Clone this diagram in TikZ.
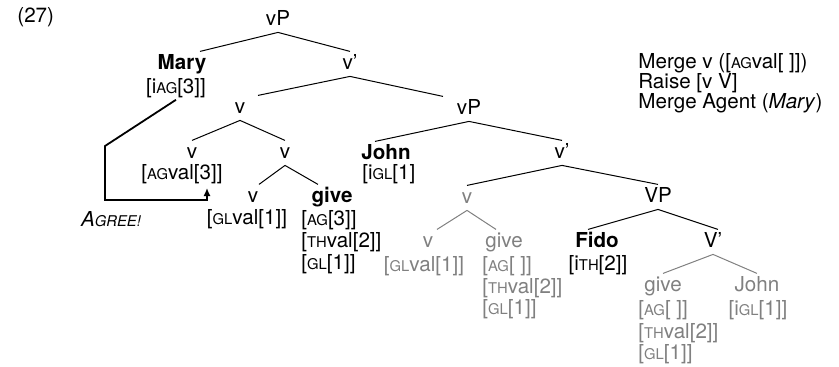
\documentclass[tikz,border=0pt]{standalone}
\usepackage{fontspec}
\setmainfont{TeX Gyre Heros}
\usetikzlibrary{arrows.meta}
\definecolor{trace}{gray}{0.5}
\newcommand{\fc}[1]{{\fontsize{7.4}{8}\selectfont #1}}

\begin{document}
\begin{tikzpicture}[x=0.5pt,y=-0.5pt,font=\fontsize{10.3}{12}\selectfont,
  cat/.style={anchor=base,text height=7.4pt,text depth=2.3pt,inner xsep=1pt,inner ysep=1.2pt},
  feat/.style={anchor=base,inner sep=1pt},
  lfeat/.style={anchor=base west,inner sep=0pt},
  gone/.style={text=trace},
  br/.style={line width=0.5pt},
  agree/.style={line width=0.9pt,-{Latex[length=4pt,width=3.6pt]}}]
\useasboundingbox (0,0) rectangle (839,366);
\node[lfeat] (ex) at (17,22) {(27)};
% upper vP
\node[cat] (root) at (278,25) {vP};
\node[cat] (Mary) at (182,69) {\bfseries Mary};
\node[feat] (iAG) at (176,93) {[i\fc{AG}[3]]};
\node[cat] (vbarA) at (350,69) {v'};
\node[cat] (vA) at (240,113) {v};
\node[cat] (vL) at (192,158) {v};
\node[feat] (AGval) at (182,179) {[\fc{AG}val[3]]};
\node[cat] (vR) at (285,158) {v};
\node[cat] (vLL) at (253,202) {v};
\node[feat] (GLval) at (247,224) {[\fc{GL}val[1]]};
\node[cat] (give) at (332,202) {\bfseries give};
\node[lfeat] (giveAG) at (301,225) {[\fc{AG}[3]]};
\node[lfeat] (giveTH) at (301,247) {[\fc{TH}val[2]]};
\node[lfeat] (giveGL) at (301,269) {[\fc{GL}[1]]};
% lower vP
\node[cat] (vPb) at (469,114) {vP};
\node[cat] (John) at (386,159) {\bfseries John};
\node[lfeat] (iGL) at (362,179) {[i\fc{GL}[1]};
\node[cat] (vbarB) at (562,158) {v'};
\node[cat,gone] (tv) at (467,203) {v};
\node[cat,gone] (tvL) at (428,247) {v};
\node[feat,gone] (tGLval) at (424,271) {[\fc{GL}val[1]]};
\node[cat,gone] (tgive) at (504,247) {give};
\node[lfeat,gone] (tgAG) at (482,271) {[\fc{AG}[ ]]};
\node[lfeat,gone] (tgTH) at (482,293) {[\fc{TH}val[2]]};
\node[lfeat,gone] (tgGL) at (482,314) {[\fc{GL}[1]]};
% VP
\node[cat] (VP) at (658,202) {VP};
\node[cat] (Fido) at (597,247) {\bfseries Fido};
\node[feat] (iTH) at (598,270) {[i\fc{TH}[2]]};
\node[cat] (Vbar) at (713,247) {V'};
\node[cat,gone] (tgive2) at (663,291) {give};
\node[lfeat,gone] (tgAG2) at (638,315) {[\fc{AG}[ ]]};
\node[lfeat,gone] (tgTH2) at (638,338) {[\fc{TH}val[2]]};
\node[lfeat,gone] (tgGL2) at (638,359) {[\fc{GL}[1]]};
\node[cat,gone] (tJohn) at (757,291) {John};
\node[feat,gone] (tiGL) at (758,315) {[i\fc{GL}[1]]};
% steps
\node[lfeat] (rule1) at (638,68) {Merge v ([\fc{AG}val[ ]])};
\node[lfeat] (rule2) at (638,88) {Raise [v V]};
\node[lfeat] (rule3) at (638,108) {Merge Agent (\textit{Mary})};
\foreach \mom/\kid/\sh in {root/Mary/9,root/vbarA/0,vbarA/vA/9,vbarA/vPb/-13,vA/vL/0,vA/vR/0,
  vR/vLL/3,vR/give/-7,vPb/John/-5.5,vPb/vbarB/0,vbarB/tv/0,vbarB/VP/0,VP/Fido/-4.5,VP/Vbar/2.5}
  \draw[br] (\mom.south) -- ([xshift=\sh pt]\kid.north);
\foreach \mom/\kid/\sh in {tv/tvL/4.5,tv/tgive/-4,Vbar/tgive2/0,Vbar/tJohn/0}
  \draw[br,trace] (\mom.south) -- ([xshift=\sh pt]\kid.north);
% agreement
\coordinate (bend) at (105,146);
\coordinate (corner) at (105,200);
\coordinate (hit) at (207,188);
\draw[agree] (iAG.south) -- (bend) -- (corner) -| (hit);
\node[feat] (agr) at (111,226) {\itshape A\fc{GREE!}};
\end{tikzpicture}
\end{document}
